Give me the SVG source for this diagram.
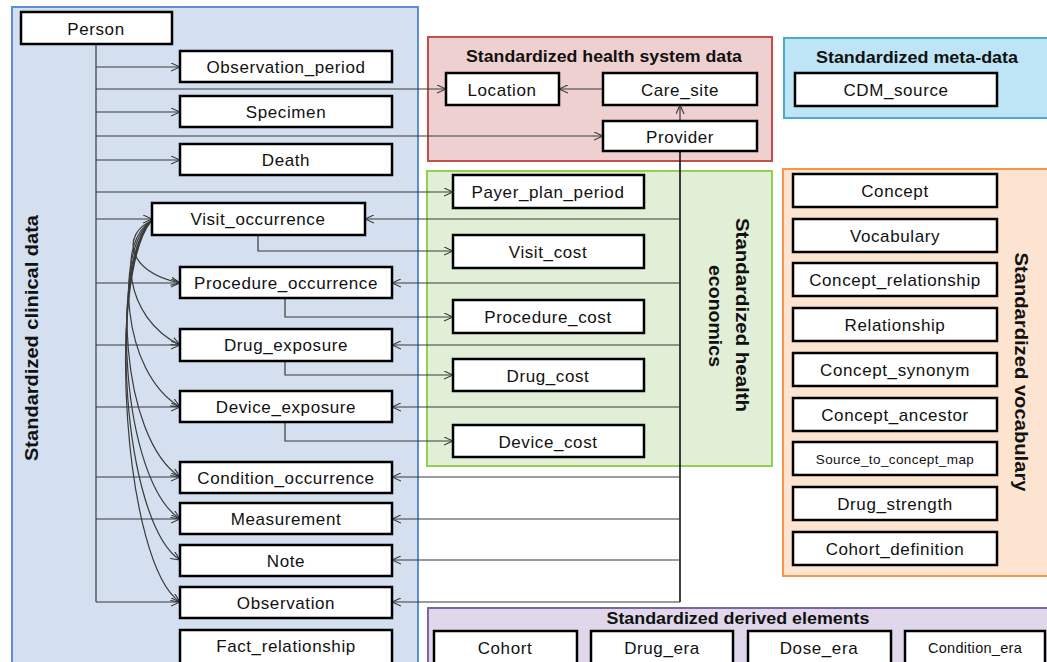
<svg xmlns="http://www.w3.org/2000/svg" width="1047" height="662" viewBox="0 0 1047 662">
<defs>
<marker id="arr" viewBox="0 0 10 10" refX="10" refY="5" markerWidth="9" markerHeight="9" markerUnits="userSpaceOnUse" orient="auto">
<path d="M0,0.5 L10,5 L0,9.5" fill="none" stroke="#333" stroke-width="1.2"/>
</marker>
<style>
.n rect{fill:#fff;stroke:#000;stroke-width:2.5}
.n text{font-family:"Liberation Sans",Arial,sans-serif;font-size:17px;letter-spacing:0.6px;text-anchor:middle;fill:#111}
.t{font-family:"Liberation Sans",Arial,sans-serif;font-weight:bold;fill:#111;text-anchor:middle}
.c path,.c line{fill:none;stroke:#3a3a3a;stroke-width:1.2}
.c .dk{stroke:#111;stroke-width:1.6}
.a{marker-end:url(#arr)}
</style>
</defs>
<rect width="1047" height="662" fill="#fff"/>
<!-- containers -->
<g id="grp-clinical">
<rect x="12" y="7" width="406" height="670" fill="#d4dfef" stroke="#5b8fd0" stroke-width="2"/>
<text class="t" font-size="19" transform="translate(38,338) rotate(-90)" textLength="246" lengthAdjust="spacingAndGlyphs">Standardized clinical data</text>
</g>
<g id="grp-health-system">
<rect x="428" y="37" width="344" height="124" fill="#efd0d0" stroke="#c0504d" stroke-width="2"/>
<text class="t" font-size="17" x="604" y="62" textLength="276" lengthAdjust="spacingAndGlyphs">Standardized health system data</text>
</g>
<g id="grp-meta">
<rect x="784" y="38" width="275" height="80" fill="#bde5f5" stroke="#4bacc6" stroke-width="2"/>
<text class="t" font-size="17" x="917" y="63" textLength="202" lengthAdjust="spacingAndGlyphs">Standardized meta-data</text>
</g>
<g id="grp-economics">
<rect x="427" y="171" width="345" height="295" fill="#e2efd7" stroke="#92d050" stroke-width="2"/>
<text class="t" font-size="19" transform="translate(736,315) rotate(90)" textLength="194" lengthAdjust="spacingAndGlyphs">Standardized health</text>
<text class="t" font-size="19" transform="translate(709,316) rotate(90)" textLength="102" lengthAdjust="spacingAndGlyphs">economics</text>
</g>
<g id="grp-vocabulary">
<rect x="783" y="169" width="275" height="407" fill="#fde4d0" stroke="#f79646" stroke-width="2"/>
<text class="t" font-size="19" transform="translate(1015,372) rotate(90)" textLength="239" lengthAdjust="spacingAndGlyphs">Standardized vocabulary</text>
</g>
<g id="grp-derived">
<rect x="428" y="608" width="630" height="70" fill="#e0d8ea" stroke="#8064a2" stroke-width="2"/>
<text class="t" font-size="17" x="738" y="624" textLength="263" lengthAdjust="spacingAndGlyphs">Standardized derived elements</text>
</g>
<!-- connectors -->
<g id="connectors" class="c">
<path d="M96,44 V602"/>
<path class="a" d="M96,67 H180"/>
<path class="a" d="M96,89 H446"/>
<path class="a" d="M96,112 H180"/>
<path class="a" d="M96,136 H603"/>
<path class="a" d="M96,160 H180"/>
<path class="a" d="M96,192 H453"/>
<path class="a" d="M96,219 H152"/>
<path class="a" d="M96,283 H180"/>
<path class="a" d="M96,345 H180"/>
<path class="a" d="M96,407 H180"/>
<path class="a" d="M96,477 H180"/>
<path class="a" d="M96,519 H180"/>
<path class="a" d="M96,602 H180"/>
<path class="a" d="M603,89 H559"/>
<path class="a" d="M680,121 V105"/>
<path class="dk" d="M680,151 V602"/>
<path class="a" d="M680,219 H365"/>
<path class="a" d="M680,283 H392"/>
<path class="a" d="M680,345 H392"/>
<path class="a" d="M680,407 H392"/>
<path class="a" d="M680,477 H392"/>
<path class="a" d="M680,519 H392"/>
<path class="a" d="M680,560 H392"/>
<path class="a" d="M680,602 H392"/>
<path class="a" d="M258,235 V251 H453"/>
<path class="a" d="M285,298 V317 H453"/>
<path class="a" d="M285,361 V375 H453"/>
<path class="a" d="M285,422 V441 H453"/>
<path class="a" d="M151,221 C122,234 126,272 180,283"/>
<path class="a" d="M151,221 C118,243 124,318 180,345"/>
<path class="a" d="M151,221 C115,252 121,372 180,407"/>
<path class="a" d="M151,221 C112,262 120,438 180,477"/>
<path class="a" d="M151,221 C110,268 121,480 180,519"/>
<path class="a" d="M151,221 C108,274 122,522 180,560"/>
<path class="a" d="M151,221 C106,280 124,565 180,602"/>
</g>
<!-- nodes -->
<g id="person" class="n"><rect x="21" y="12" width="151" height="32"/><text x="96" y="35">Person</text></g>
<g id="observation_period" class="n"><rect x="180" y="51" width="212" height="31"/><text x="286" y="73">Observation_period</text></g>
<g id="specimen" class="n"><rect x="180" y="96" width="212" height="31"/><text x="286" y="118">Specimen</text></g>
<g id="death" class="n"><rect x="180" y="144" width="212" height="31"/><text x="286" y="166">Death</text></g>
<g id="visit_occurrence" class="n"><rect x="152" y="203" width="213" height="32"/><text x="258" y="225">Visit_occurrence</text></g>
<g id="procedure_occurrence" class="n"><rect x="180" y="267" width="212" height="31"/><text x="286" y="289">Procedure_occurrence</text></g>
<g id="drug_exposure" class="n"><rect x="180" y="329" width="212" height="32"/><text x="286" y="351">Drug_exposure</text></g>
<g id="device_exposure" class="n"><rect x="180" y="391" width="212" height="31"/><text x="286" y="413">Device_exposure</text></g>
<g id="condition_occurrence" class="n"><rect x="180" y="462" width="212" height="31"/><text x="286" y="484">Condition_occurrence</text></g>
<g id="measurement" class="n"><rect x="180" y="503" width="212" height="31"/><text x="286" y="525">Measurement</text></g>
<g id="note" class="n"><rect x="180" y="545" width="212" height="31"/><text x="286" y="567">Note</text></g>
<g id="observation" class="n"><rect x="180" y="587" width="212" height="31"/><text x="286" y="609">Observation</text></g>
<g id="fact_relationship" class="n"><rect x="180" y="630" width="212" height="40"/><text x="286" y="652">Fact_relationship</text></g>
<g id="location" class="n"><rect x="446" y="73" width="113" height="32"/><text x="502" y="96">Location</text></g>
<g id="care_site" class="n"><rect x="603" y="73" width="154" height="32"/><text x="680" y="96">Care_site</text></g>
<g id="provider" class="n"><rect x="603" y="121" width="154" height="30"/><text x="680" y="143">Provider</text></g>
<g id="cdm_source" class="n"><rect x="795" y="73" width="202" height="33"/><text x="896" y="96">CDM_source</text></g>
<g id="payer_plan_period" class="n"><rect x="453" y="175" width="191" height="33"/><text x="548" y="198">Payer_plan_period</text></g>
<g id="visit_cost" class="n"><rect x="453" y="235" width="191" height="33"/><text x="548" y="258">Visit_cost</text></g>
<g id="procedure_cost" class="n"><rect x="453" y="300" width="191" height="33"/><text x="548" y="323">Procedure_cost</text></g>
<g id="drug_cost" class="n"><rect x="453" y="359" width="191" height="32"/><text x="548" y="382">Drug_cost</text></g>
<g id="device_cost" class="n"><rect x="453" y="425" width="191" height="32"/><text x="548" y="448">Device_cost</text></g>
<g id="concept" class="n"><rect x="793" y="174" width="204" height="33"/><text x="895" y="197">Concept</text></g>
<g id="vocabulary" class="n"><rect x="793" y="219" width="204" height="33"/><text x="895" y="242">Vocabulary</text></g>
<g id="concept_relationship" class="n"><rect x="793" y="263" width="204" height="33"/><text x="895" y="286">Concept_relationship</text></g>
<g id="relationship" class="n"><rect x="793" y="308" width="204" height="33"/><text x="895" y="331">Relationship</text></g>
<g id="concept_synonym" class="n"><rect x="793" y="353" width="204" height="33"/><text x="895" y="376">Concept_synonym</text></g>
<g id="concept_ancestor" class="n"><rect x="793" y="398" width="204" height="33"/><text x="895" y="421">Concept_ancestor</text></g>
<g id="source_to_concept_map" class="n"><rect x="793" y="442" width="204" height="33"/><text x="895" y="464" style="font-size:13.5px;letter-spacing:0.4px">Source_to_concept_map</text></g>
<g id="drug_strength" class="n"><rect x="793" y="487" width="204" height="33"/><text x="895" y="510">Drug_strength</text></g>
<g id="cohort_definition" class="n"><rect x="793" y="532" width="204" height="33"/><text x="895" y="555">Cohort_definition</text></g>
<g id="cohort" class="n"><rect x="434" y="631" width="143" height="40"/><text x="505" y="654">Cohort</text></g>
<g id="drug_era" class="n"><rect x="591" y="631" width="142" height="40"/><text x="662" y="654">Drug_era</text></g>
<g id="dose_era" class="n"><rect x="748" y="631" width="143" height="40"/><text x="819" y="654">Dose_era</text></g>
<g id="condition_era" class="n"><rect x="905" y="631" width="140" height="40"/><text x="975" y="653" style="font-size:14.5px;letter-spacing:0.3px">Condition_era</text></g>
</svg>
